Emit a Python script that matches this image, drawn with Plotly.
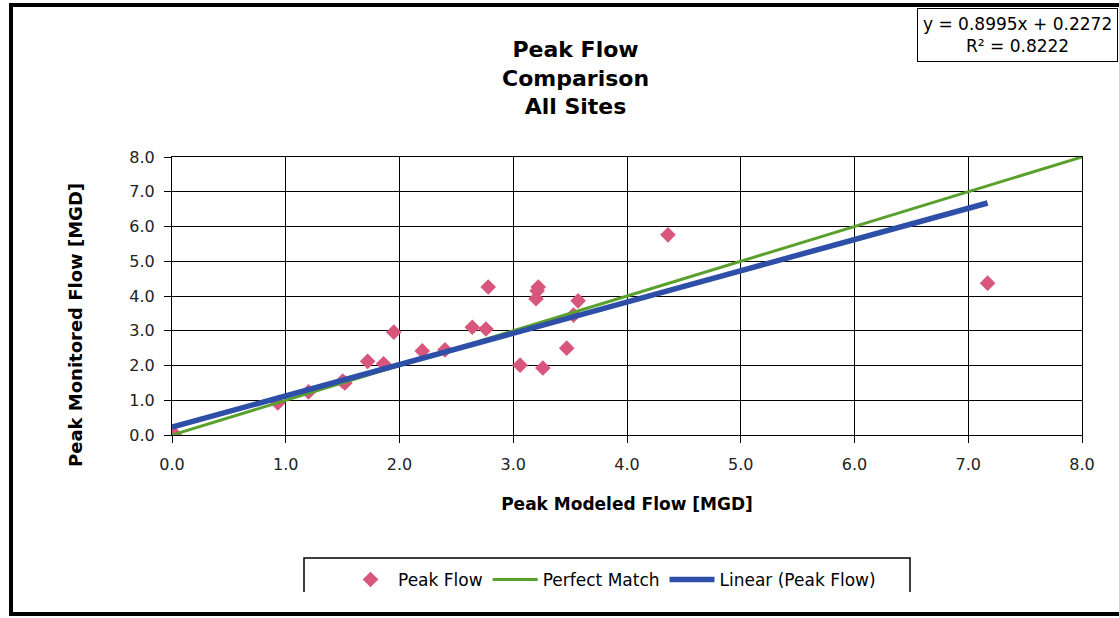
import plotly.graph_objects as go

# Data
modeled = [0.0, 0.02, 0.93, 1.2, 1.5, 1.52, 1.72, 1.86, 1.95, 2.2, 2.4, 2.64, 2.76,
           2.78, 3.06, 3.2, 3.21, 3.22, 3.26, 3.47, 3.53, 3.57, 4.36, 7.17]
monitored = [0.0, 0.03, 0.92, 1.24, 1.55, 1.5, 2.12, 2.05, 2.96, 2.42, 2.45, 3.1, 3.05,
             4.26, 2.01, 3.92, 4.15, 4.26, 1.93, 2.5, 3.45, 3.86, 5.76, 4.37]
slope = 0.8995
intercept = 0.2272
r2 = 0.8222
perfect_x = [0, 8]

trend_x = [min(modeled), max(modeled)]
trend_y = [slope * v + intercept for v in trend_x]

FONT = "DejaVu Sans, Arial, sans-serif"

fig = go.Figure()
fig.add_trace(go.Scatter(
    x=modeled, y=monitored, mode="markers", name="Peak Flow",
    marker=dict(symbol="diamond", size=12, color="#d8557c"),
))
fig.add_trace(go.Scatter(
    x=perfect_x, y=perfect_x, mode="lines", name="Perfect Match",
    line=dict(color="#5aa02c", width=3),
))
fig.add_trace(go.Scatter(
    x=trend_x, y=trend_y, mode="lines", name="Linear (Peak Flow)",
    line=dict(color="#2e4fa8", width=5.5),
))

# pixel -> paper helpers (plot area: x 172..1082, y 157..435)
L, R, T, B = 172, 1082, 157, 435
def px(x):
    return (x - L) / (R - L)
def py(y):
    return (B - y) / (B - T)

axis_common = dict(
    range=[0, 8], dtick=1, tickformat=".1f", showgrid=True, gridcolor="#000000",
    gridwidth=1, showline=True, linecolor="#000000", linewidth=1, mirror=True,
    zeroline=False, ticks="outside", ticklen=7, tickcolor="#000000",
    tickfont=dict(family=FONT, size=16, color="#222222"),
)

fig.update_layout(
    width=1119, height=618,
    margin=dict(l=L, r=1119 - R, t=T, b=618 - B),
    paper_bgcolor="white", plot_bgcolor="white",
    font=dict(family=FONT, color="#000000"),
    xaxis=dict(axis_common, ticklabelstandoff=8,
               title=dict(text="<b>Peak Modeled Flow [MGD]</b>",
                          font=dict(size=17), standoff=24)),
    yaxis=dict(axis_common, ticklabelstandoff=6),
    showlegend=True,
    legend=dict(
        orientation="h", x=px(612), xanchor="center", y=py(562), yanchor="top",
        borderwidth=0, bgcolor="rgba(0,0,0,0)",
        font=dict(family=FONT, size=17, color="#000000"),
        itemwidth=45, tracegroupgap=0,
    ),
)

# y-axis title (offset downward as in the original)
fig.add_annotation(
    x=px(75), y=py(325), xref="paper", yref="paper", showarrow=False,
    xanchor="center", yanchor="middle", textangle=-90,
    text="<b>Peak Monitored Flow [MGD]</b>",
    font=dict(family=FONT, size=18, color="#000000"),
)
fig.add_annotation(
    x=px(575), y=py(78), xref="paper", yref="paper", showarrow=False,
    xanchor="center", yanchor="middle",
    text="<b>Peak Flow<br>Comparison<br>All Sites</b>",
    font=dict(family=FONT, size=22, color="#000000"), align="center",
)
fig.add_annotation(
    x=px(917), y=py(8), xref="paper", yref="paper", xanchor="left", yanchor="top",
    showarrow=False, align="center",
    text=f"y = {slope}x + {intercept}<br>R² = {r2}",
    font=dict(family=FONT, size=17, color="#000000"),
    bordercolor="#000000", borderwidth=1, borderpad=5, bgcolor="white",
)

def path(points):
    return "M " + " L ".join(f"{px(x)},{py(y)}" for x, y in points)

# outer chart frame (left, top, bottom)
fig.add_shape(
    type="path", xref="paper", yref="paper",
    path=path([(1119, 614), (11, 614), (11, 5), (1119, 5)]),
    line=dict(color="#000000", width=4),
)
# legend box (top and sides)
fig.add_shape(
    type="path", xref="paper", yref="paper",
    path=path([(304, 592), (304, 558), (910, 558), (910, 592)]),
    line=dict(color="#000000", width=1.5),
)

fig.write_html("out.html")
